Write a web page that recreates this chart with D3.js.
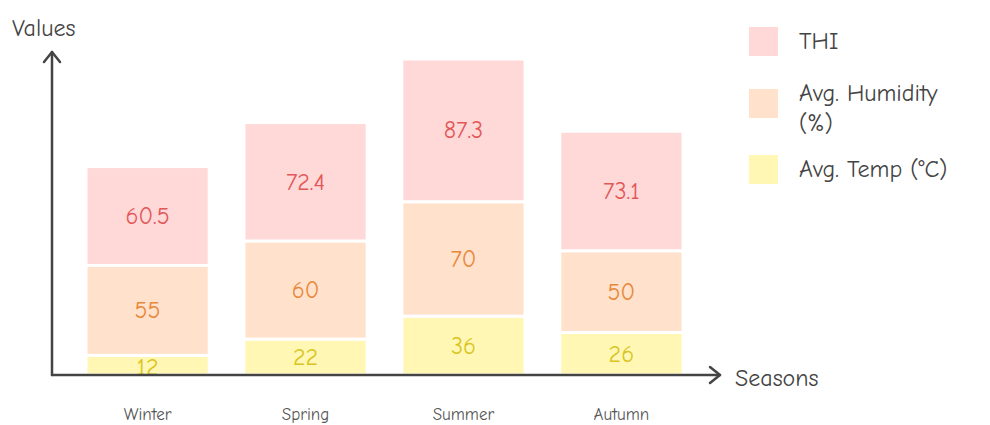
<!DOCTYPE html>
<meta charset="utf-8">
<script src="https://d3js.org/d3.v7.min.js"></script>
<style>
body{margin:0;background:#fff;}
text{font-family:"Comic Neue","Lato","Noto Sans",sans-serif;}
.val{text-anchor:middle;dominant-baseline:central;font-size:24px;}
.cat{text-anchor:middle;font-size:17px;fill:#555;}
.leg{font-size:24px;fill:#444;}
</style>
<div id="vis"></div>
<script>
// data
const seasons = ["Winter", "Spring", "Summer", "Autumn"];
const avgTemp = [12, 22, 36, 26];
const avgHumidity = [55, 60, 70, 50];
const thi = [60.5, 72.4, 87.3, 73.1];
const seriesNames = ["Avg. Temp (°C)", "Avg. Humidity (%)", "THI"];

const fills = ["#fff7b3", "#ffe1cc", "#ffd8d8"];
const inks = ["#d9c421", "#e8883a", "#e25757"];

const w = 990, h = 425;
const svg = d3.select("#vis").append("svg").attr("width", w).attr("height", h);

const base = 375;
const table = seasons.map((s, i) => ({season: s, t: avgTemp[i], hu: avgHumidity[i], thi: thi[i]}));
const stack = d3.stack().keys(["t", "hu", "thi"])(table);

const x = d3.scaleBand().domain(seasons).range([86, 683]).paddingInner(0.22).paddingOuter(0);
const y = d3.scaleLinear().domain([0, d3.max(stack[2], d => d[1])]).range([base, 59]);

// bars
const layers = svg.selectAll(".layer").data(stack).enter().append("g")
  .attr("fill", (d, i) => fills[i]);

layers.selectAll("rect").data(d => d).enter().append("rect")
  .attr("x", d => x(d.data.season))
  .attr("width", x.bandwidth())
  .attr("y", d => y(d[1]))
  .attr("height", d => y(d[0]) - y(d[1]))
  .attr("stroke", "#fff").attr("stroke-width", 3);

// values
stack.forEach((layer, i) => {
  svg.selectAll(".v" + i).data(layer).enter().append("text")
    .attr("class", "val")
    .attr("fill", inks[i])
    .attr("x", d => x(d.data.season) + x.bandwidth() / 2)
    .attr("y", d => (y(d[0]) + y(d[1])) / 2 + (i == 0 && d[1] < 15 ? 2 : 0))
    .text(d => d.data[layer.key]);
});

// axes with arrows
const ax = svg.append("g").attr("stroke", "#444").attr("stroke-width", 2.5).attr("fill", "none")
  .attr("stroke-linecap", "round").attr("stroke-linejoin", "round");
ax.append("line").attr("x1", 52).attr("y1", base).attr("x2", 52).attr("y2", 52);
ax.append("path").attr("d", "M44,62 L52,52 L60,62");
ax.append("line").attr("x1", 52).attr("y1", base).attr("x2", 720).attr("y2", base);
ax.append("path").attr("d", "M710,367 L720,375 L710,383");

svg.append("text").attr("class", "leg").attr("x", 12).attr("y", 36).text("Values");
svg.append("text").attr("class", "leg").attr("x", 735).attr("y", 386).text("Seasons");

svg.selectAll(".cat").data(seasons).enter().append("text")
  .attr("class", "cat")
  .attr("x", d => x(d) + x.bandwidth() / 2)
  .attr("y", 420)
  .text(d => d);

// legend
const legend = [
  {name: "THI", fill: fills[2], y: 27, lines: ["THI"]},
  {name: seriesNames[1], fill: fills[1], y: 89, lines: ["Avg. Humidity", "(%)"]},
  {name: seriesNames[0], fill: fills[0], y: 155, lines: ["Avg. Temp (°C)"]}
];
legend.forEach(l => {
  svg.append("rect").attr("x", 749).attr("y", l.y).attr("width", 29).attr("height", 29).attr("fill", l.fill);
  const t = svg.append("text").attr("class", "leg").attr("x", 799).attr("y", l.lines.length > 1 ? l.y + 12 : l.y + 22);
  l.lines.forEach((s, j) => t.append("tspan").attr("x", 799).attr("dy", j ? 30 : 0).text(s));
});
</script>
